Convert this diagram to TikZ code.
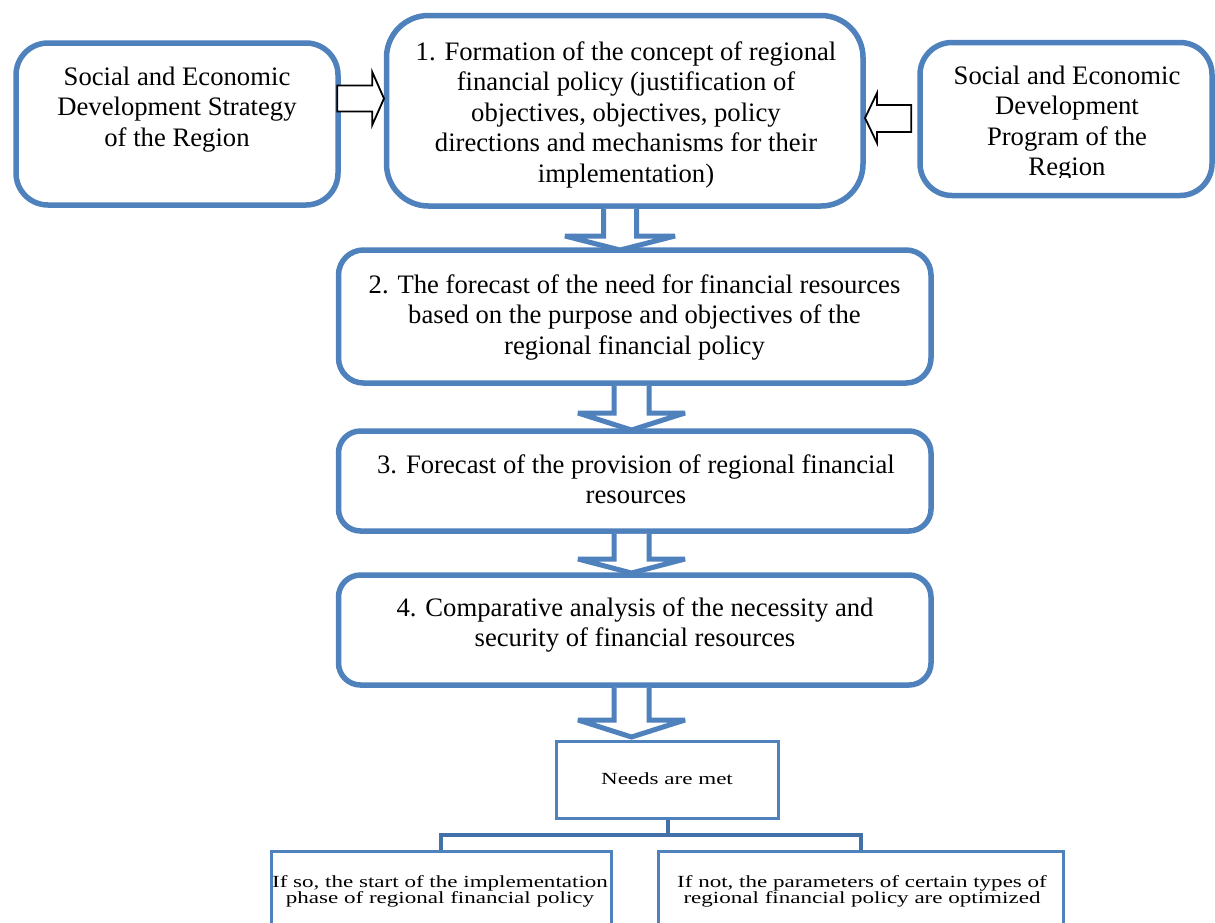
\documentclass[tikz,border=0pt]{standalone}
\usepackage{fontspec}
\setmainfont{Liberation Serif}
\usetikzlibrary{calc}
\definecolor{oblue}{RGB}{79,129,189}
\definecolor{dblue}{RGB}{68,112,168}
\newcommand{\ml}[1]{\begin{tabular}[t]{@{}c@{}}#1\end{tabular}}
\newcommand{\bigf}{\fontsize{26.67}{30.5}\selectfont}
\newcommand{\smf}{\fontsize{17}{16.5}\selectfont}
\newcommand{\sml}[1]{\smf\scalebox{1.355}[1]{\ml{#1}}}
\tikzset{
  rbox/.style={draw=oblue, line width=5.5pt, fill=white, inner sep=0pt, rounded corners=#1},
  rbox/.default=30pt,
  sbox/.style={draw=oblue, line width=3pt, fill=white, inner sep=0pt},
  txt/.style={inner sep=0pt, anchor=base, font=\bigf},
  stxt/.style={inner sep=0pt, anchor=base},
  barrow/.style={draw=oblue, fill=white, line width=5pt, line join=miter, miter limit=2},
  harrow/.style={draw=black, fill=white, line width=1.8pt, line join=miter},
  conn/.style={draw=dblue, line width=4pt}
}
\begin{document}
\begin{tikzpicture}[x=1pt, y=-1pt]
\clip (0,0) rectangle (1215,922);
\fill[white] (0,0) rectangle (1215,922);

% boxes
\node[rbox=32pt, minimum width=322pt, minimum height=162pt] (L) at (177,124) {};
\node[rbox=42pt, minimum width=476.5pt, minimum height=190.5pt] (B1) at (624.75,110.75) {};
\node[rbox=32pt, minimum width=292pt, minimum height=153pt] (R) at (1066,119) {};
\node[rbox=25pt, minimum width=592.5pt, minimum height=133pt] (B2) at (634.75,316.5) {};
\node[rbox=22pt, minimum width=592.5pt, minimum height=100pt] (B3) at (634.75,481) {};
\node[rbox=22pt, minimum width=592.5pt, minimum height=110pt] (B4) at (634.75,630) {};
\node[sbox, minimum width=222pt, minimum height=77.5pt] (N) at (667.5,779.75) {};
\node[sbox, minimum width=340.5pt, minimum height=108.5pt] (BL) at (441.25,905.75) {};
\node[sbox, minimum width=405pt, minimum height=108.5pt] (BR) at (861,905.75) {};

% texts
\node[txt] (Lt) at (177,85) {\ml{Social and Economic\\Development Strategy\\of the Region}};
\node[txt] (B1t) at (626,60) {\ml{1. Formation of the concept of regional\\financial policy (justification of\\objectives, objectives, policy\\directions and mechanisms for their\\implementation)}};
\begin{scope}
\clip ($(R.north west)+(0,5)$) rectangle ($(R.east)+(0,58)$);
\node[txt] (Rt) at (1067,84) {\ml{Social and Economic\\Development\\Program of the\\Region}};
\end{scope}
\node[txt] (B2t) at (634.5,293) {\ml{2. The forecast of the need for financial resources\\based on the purpose and objectives of the\\regional financial policy}};
\node[txt] (B3t) at (636,473) {\ml{3. Forecast of the provision of regional financial\\resources}};
\node[txt] (B4t) at (635,616) {\ml{4. Comparative analysis of the necessity and\\security of financial resources}};
\node[stxt] (Nt) at (667,784) {\sml{Needs are met}};
\node[stxt] (BLt) at (440,887) {\sml{If so, the start of the implementation\\phase of regional financial policy}};
\node[stxt] (BRt) at (862,887) {\sml{If not, the parameters of certain types of\\regional financial policy are optimized}};

% hollow black arrows
\filldraw[harrow] ($(L.east)+(-3.5,-38.5)$) -- ++(35,0) -- ++(0,-13.5) -- ++(11.75,26.5) -- ++(-11.75,26.5) -- ++(0,-13.5) -- ++(-35,0) -- cycle;
\filldraw[harrow] ($(R.west)+(-6,-14)$) -- ++(-34.25,0) -- ++(0,-12) -- ++(-12,25) -- ++(12,25) -- ++(0,-11) -- ++(34.25,0) -- cycle;

% blue block arrows
\filldraw[barrow] ($(B1.south)+(-21.25,0)$) -- ++(0,27.25) -- ++(-38.5,0) -- ++(55,14) -- ++(55,-14) -- ++(-38.5,0) -- ++(0,-27.25);
\filldraw[barrow] ($(B2.south)+(-20.75,0)$) -- ++(0,27.25) -- ++(-36,0) -- ++(53.5,17) -- ++(53.5,-17) -- ++(-36,0) -- ++(0,-27.25);
\filldraw[barrow] ($(B3.south)+(-20.75,0)$) -- ++(0,25.25) -- ++(-36,0) -- ++(53.5,14) -- ++(53.5,-14) -- ++(-36,0) -- ++(0,-25.25);
\filldraw[barrow] ($(B4.south)+(-20.75,0)$) -- ++(0,32.25) -- ++(-36,0) -- ++(53.5,17) -- ++(53.5,-17) -- ++(-36,0) -- ++(0,-32.25);

% connectors
\draw[conn] (N.south) -- ++(0,15) coordinate (j);
\draw[conn] (BL.north) |- (j) -| (BR.north);
\end{tikzpicture}
\end{document}
